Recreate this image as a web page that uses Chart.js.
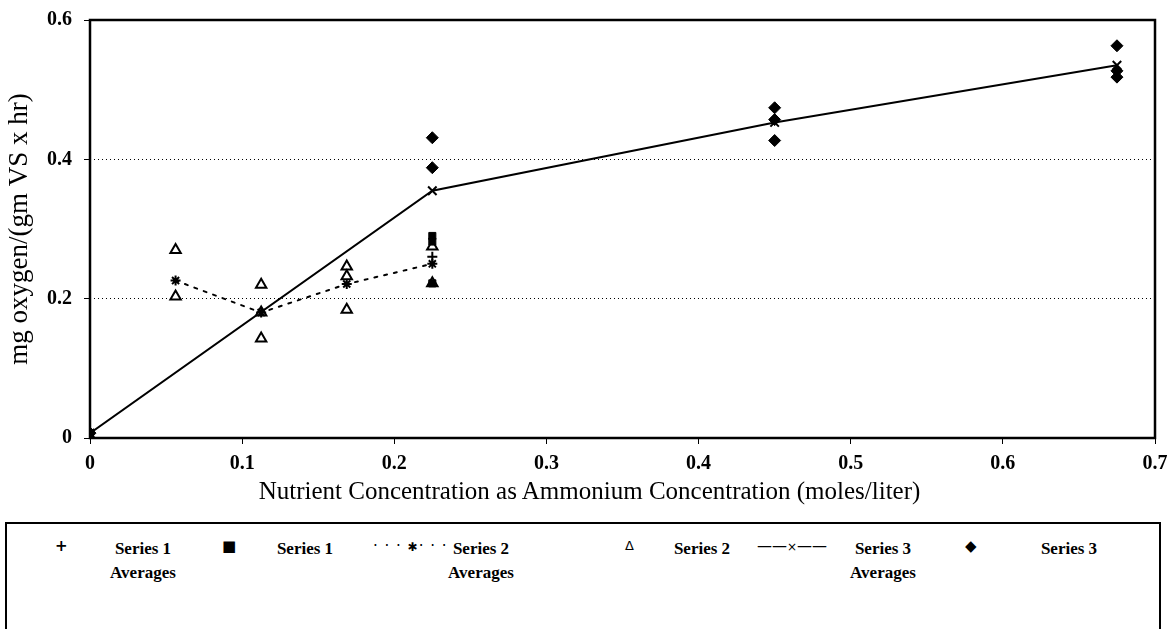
<!DOCTYPE html>
<html>
<head>
<meta charset="utf-8">
<script src="https://cdn.jsdelivr.net/npm/chart.js@4/dist/chart.umd.min.js"></script>
<style>
  body { margin: 0; background: #fff; width: 1169px; height: 629px; overflow: hidden; position: relative; }
  #wrap { position: absolute; left: 0; top: 0; width: 1169px; height: 505px; }
  #xtitle { position: absolute; left: 5px; width: 1169px; top: 476px; text-align: center;
            font-family: "Liberation Serif", serif; font-size: 25px; line-height: 30px; color: #000; }
  #legend { position: absolute; left: 5px; top: 522px; width: 1156px; height: 120px; border: 2px solid #000; box-sizing: border-box;
            font-family: "Liberation Serif", serif; font-size: 17px; font-weight: bold; color: #000; }
  .sym { position: absolute; top: 12px; font-family: "DejaVu Sans", sans-serif; font-size: 15px; line-height: 20px; font-weight: normal; }
  .lab { position: absolute; top: 13px; text-align: center; line-height: 24px; }
</style>
</head>
<body>
<div id="wrap"><canvas id="chart"></canvas></div>
<div id="xtitle">Nutrient Concentration as Ammonium Concentration (moles/liter)</div>
<div id="legend">
  <div class="sym" style="left:48px;font-weight:bold;">+</div>
  <div class="lab" style="left:96px;width:80px;">Series 1<br>Averages</div>
  <div class="sym" style="left:215px;">&#9632;</div>
  <div class="lab" style="left:258px;width:80px;">Series 1</div>
  <div class="sym" style="left:366px;letter-spacing:1px;">· · · <span style="font-size:12px">&#10033;</span>· · ·</div>
  <div class="lab" style="left:434px;width:80px;">Series 2<br>Averages</div>
  <div class="sym" style="left:618px;font-size:13px;">&#916;</div>
  <div class="lab" style="left:655px;width:80px;">Series 2</div>
  <div class="sym" style="left:750px;">&#8212;&#8212;<span style="font-size:12px">&#215;</span>&#8212;&#8212;</div>
  <div class="lab" style="left:836px;width:80px;">Series 3<br>Averages</div>
  <div class="sym" style="left:958px;">&#9670;</div>
  <div class="lab" style="left:1022px;width:80px;">Series 3</div>
</div>
<script>
// Nutrient concentration (moles/liter) vs oxygen uptake

const yTicks = [0, 0.2, 0.4, 0.6];

const series1Avg = [{x: 0, y: 0.007}, {x: 0.225, y: 0.26}];
const series1 = [{x: 0, y: 0.007}, {x: 0.225, y: 0.29}, {x: 0.225, y: 0.282}, {x: 0.225, y: 0.222}];

const series2AvgX = [0.05625, 0.1125, 0.16875, 0.225];
const series2AvgY = [0.226, 0.18, 0.221, 0.25];
const series2 = [
    {x: 0.05625, y: 0.27}, {x: 0.05625, y: 0.203},
    {x: 0.1125, y: 0.22}, {x: 0.1125, y: 0.18}, {x: 0.1125, y: 0.143},
    {x: 0.16875, y: 0.246}, {x: 0.16875, y: 0.232}, {x: 0.16875, y: 0.184},
    {x: 0.225, y: 0.275}, {x: 0.225, y: 0.222}
];

const series3AvgX = [0, 0.225, 0.45, 0.675];
const series3AvgY = [0.007, 0.355, 0.453, 0.535];
const series3 = [
    {x: 0, y: 0.007},
    {x: 0.225, y: 0.431}, {x: 0.225, y: 0.388},
    {x: 0.45, y: 0.474}, {x: 0.45, y: 0.457}, {x: 0.45, y: 0.427},
    {x: 0.675, y: 0.563}, {x: 0.675, y: 0.527}, {x: 0.675, y: 0.518}
];

function pairs(xs, ys) {
    return xs.map((x, i) => ({x: x, y: ys[i]}));
}

// draws the box round the plot area
const frame = {
    id: 'frame',
    afterDraw(chart) {
        const a = chart.chartArea;
        const ctx = chart.ctx;
        ctx.save();
        ctx.strokeStyle = '#000';
        ctx.lineWidth = 2.5;
        ctx.strokeRect(a.left, a.top, a.right - a.left, a.bottom - a.top);
        ctx.restore();
    }
};

const ctx = document.getElementById('chart').getContext('2d');
new Chart(ctx, {
    type: 'scatter',
    data: {
        datasets: [
            {
                label: 'Series 1 Averages',
                data: series1Avg,
                pointStyle: 'cross',
                pointRadius: 5,
                borderColor: '#000',
                borderWidth: 2,
                showLine: false
            },
            {
                label: 'Series 1',
                data: series1,
                pointStyle: 'rect',
                pointRadius: 5,
                backgroundColor: '#000',
                borderColor: '#000',
                showLine: false
            },
            {
                label: 'Series 2 Averages',
                data: pairs(series2AvgX, series2AvgY),
                pointStyle: 'star',
                pointRadius: 5,
                borderColor: '#000',
                borderWidth: 2,
                showLine: true,
                borderDash: [3, 7],
                borderCapStyle: 'round',
                fill: false
            },
            {
                label: 'Series 2',
                data: series2,
                pointStyle: 'triangle',
                pointRadius: 6,
                backgroundColor: '#fff',
                borderColor: '#000',
                borderWidth: 2,
                showLine: false
            },
            {
                label: 'Series 3 Averages',
                data: pairs(series3AvgX, series3AvgY),
                pointStyle: 'crossRot',
                pointRadius: 6,
                borderColor: '#000',
                borderWidth: 2,
                showLine: true,
                fill: false
            },
            {
                label: 'Series 3',
                data: series3,
                pointStyle: 'rectRot',
                pointRadius: 6,
                backgroundColor: '#000',
                borderColor: '#000',
                showLine: false
            }
        ]
    },
    options: {
        responsive: true,
        maintainAspectRatio: false,
        animation: false,
        layout: { padding: { top: 20, right: 14, left: 0, bottom: 0 } },
        plugins: {
            legend: { display: false },
            tooltip: { enabled: false }
        },
        scales: {
            x: {
                type: 'linear',
                min: 0,
                max: 0.7,
                afterFit(scale) {
                    scale.height = 67;
                    scale.paddingLeft = 0;
                    scale.paddingRight = 0;
                },
                ticks: {
                    stepSize: 0.1,
                    color: '#000',
                    padding: 8,
                    maxRotation: 0,
                    font: { family: 'Liberation Serif', size: 20, weight: 'bold' },
                    callback: v => Number(v.toFixed(1)).toString()
                },
                grid: { drawOnChartArea: false, drawTicks: true, tickLength: 6, color: '#000' },
                border: { display: false }
            },
            y: {
                min: 0,
                max: 0.6,
                afterFit(scale) {
                    scale.width = 90;
                    scale.paddingTop = 0;
                    scale.paddingBottom = 0;
                },
                afterBuildTicks(scale) { scale.ticks = yTicks.map(v => ({value: v})); },
                ticks: {
                    color: '#000',
                    padding: 12,
                    font: { family: 'Liberation Serif', size: 20, weight: 'bold' },
                    callback: v => v.toString()
                },
                grid: { color: '#000', lineWidth: 1, drawTicks: true, tickLength: 6, tickBorderDash: [] },
                border: { display: false, dash: [1, 3] },
                title: {
                    display: true,
                    text: 'mg oxygen/(gm VS x hr)',
                    color: '#000',
                    padding: { bottom: 2 },
                    font: { family: 'Liberation Serif', size: 27 }
                }
            }
        }
    },
    plugins: [frame]
});
</script>
</body>
</html>
